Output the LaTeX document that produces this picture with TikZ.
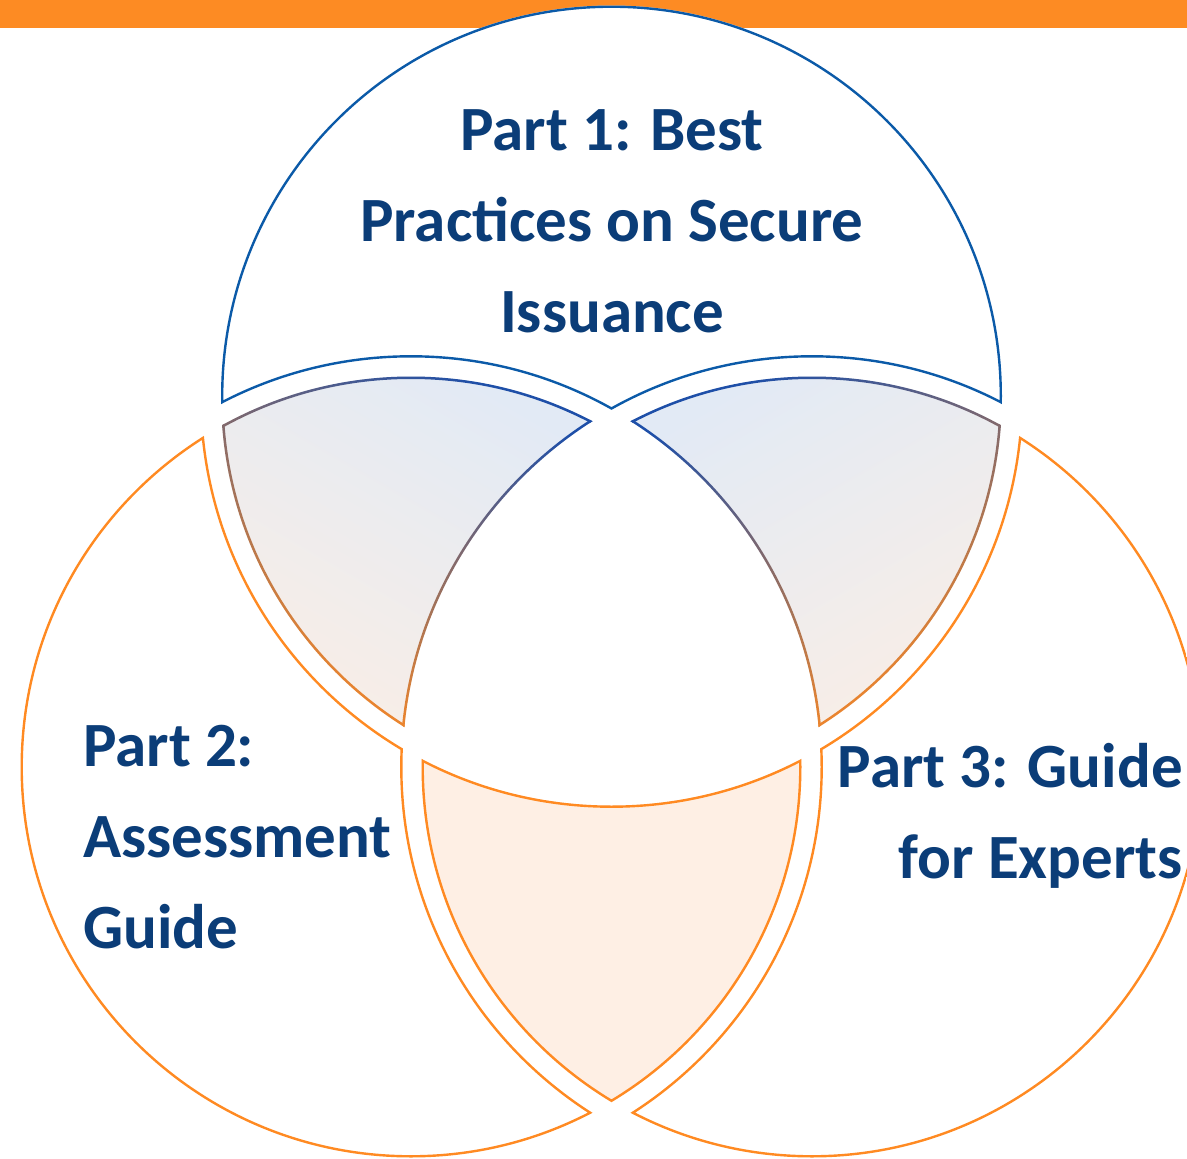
\documentclass[tikz,border=0pt]{standalone}
\usepackage{fontspec}
\setmainfont{Carlito}
\usepackage{xcolor}
\usetikzlibrary{positioning}
\definecolor{bar}      {HTML}{FD8B23}
\definecolor{ringblue} {HTML}{0B5AA8}
\definecolor{ringorange}{HTML}{FF8A22}
\definecolor{ink}      {HTML}{0B3D78}
\definecolor{lenstop}  {HTML}{E2EAF5}
\definecolor{lensbot}  {HTML}{F9EEE6}
\definecolor{rimtop}   {HTML}{1E4FA8}
\definecolor{rimbot}   {HTML}{FF8A22}
\definecolor{peach}    {HTML}{FEEFE4}

% clip to the shrunk inside / grown outside of a circle (scopes use even odd rule)
\newcommand{\keepin}[1]{\clip (#1) circle[radius=390.5pt];}
\newcommand{\keepout}[1]{\clip (-20,-20) rectangle (1220,1200) (#1) circle[radius=409.5pt];}
% shaded rim of a lens along one circle
\newcommand{\lensrim}[4]{%
  \begin{scope}[even odd rule]
    \clip (#1) circle[radius=#2+2.5pt] (#1) circle[radius=#2-2.5pt];
    \shade[top color=rimtop,bottom color=rimbot,shading angle=#3] #4;
  \end{scope}}

\tikzset{
  label/.style={text=ink,font=\fontsize{63}{91}\selectfont\bfseries,inner sep=0pt},
  ring/.style={line width=4.8pt}
}

\begin{document}
\begin{tikzpicture}[x=1pt,y=-1pt]
  \useasboundingbox (0,0) rectangle (1187,1159);
  \fill[bar] (0,0) rectangle (1187,28);
  \coordinate (T) at (611.5,396);
  \coordinate (L) at (411,767);
  \coordinate (R) at (812,767);

  % Part 1 alone
  \begin{scope}[even odd rule]
    \keepin{T}\keepout{L}\keepout{R}
    \fill[white] (0,0) rectangle (1187,1159);
    \draw[ring,ringblue] (T) circle[radius=390.5pt]
      (L) circle[radius=409.5pt] (R) circle[radius=409.5pt];
  \end{scope}
  % Part 2 alone
  \begin{scope}[even odd rule]
    \keepin{L}\keepout{T}\keepout{R}
    \fill[white] (0,0) rectangle (1187,1159);
    \draw[ring,ringorange] (L) circle[radius=390.5pt]
      (T) circle[radius=409.5pt] (R) circle[radius=409.5pt];
  \end{scope}
  % Part 3 alone
  \begin{scope}[even odd rule]
    \keepin{R}\keepout{T}\keepout{L}
    \fill[white] (0,0) rectangle (1187,1159);
    \draw[ring,ringorange] (R) circle[radius=390.5pt]
      (T) circle[radius=409.5pt] (L) circle[radius=409.5pt];
  \end{scope}
  % Part 1 and Part 2
  \begin{scope}[even odd rule]
    \keepin{T}\keepin{L}\keepout{R}
    \shade[top color=lenstop,bottom color=lensbot,shading angle=-30]
      (215,372) rectangle (600,735);
    \lensrim{T}{390.5pt}{-30}{(215,372) rectangle (600,735)}
    \lensrim{L}{390.5pt}{-30}{(215,372) rectangle (600,735)}
    \lensrim{R}{409.5pt}{-30}{(215,372) rectangle (600,735)}
  \end{scope}
  % Part 1 and Part 3
  \begin{scope}[even odd rule]
    \keepin{T}\keepin{R}\keepout{L}
    \shade[top color=lenstop,bottom color=lensbot,shading angle=30]
      (623,372) rectangle (1008,735);
    \lensrim{T}{390.5pt}{30}{(623,372) rectangle (1008,735)}
    \lensrim{R}{390.5pt}{30}{(623,372) rectangle (1008,735)}
    \lensrim{L}{409.5pt}{30}{(623,372) rectangle (1008,735)}
  \end{scope}
  % Part 2 and Part 3
  \begin{scope}[even odd rule]
    \keepin{L}\keepin{R}\keepout{T}
    \fill[peach] (0,0) rectangle (1187,1159);
    \draw[ring,ringorange] (L) circle[radius=390.5pt]
      (R) circle[radius=390.5pt] (T) circle[radius=409.5pt];
  \end{scope}

  \node[label,align=center] (part1) at (612,221)
    {Part 1: Best\\Practices on Secure\\Issuance};
  \node[label,align=left,anchor=west] (part2) at (83,837)
    {Part 2:\\Assessment\\Guide};
  \node[label,align=right,anchor=east] (part3) at (1183,816)
    {Part 3: Guide\\for Experts};
\end{tikzpicture}
\end{document}
